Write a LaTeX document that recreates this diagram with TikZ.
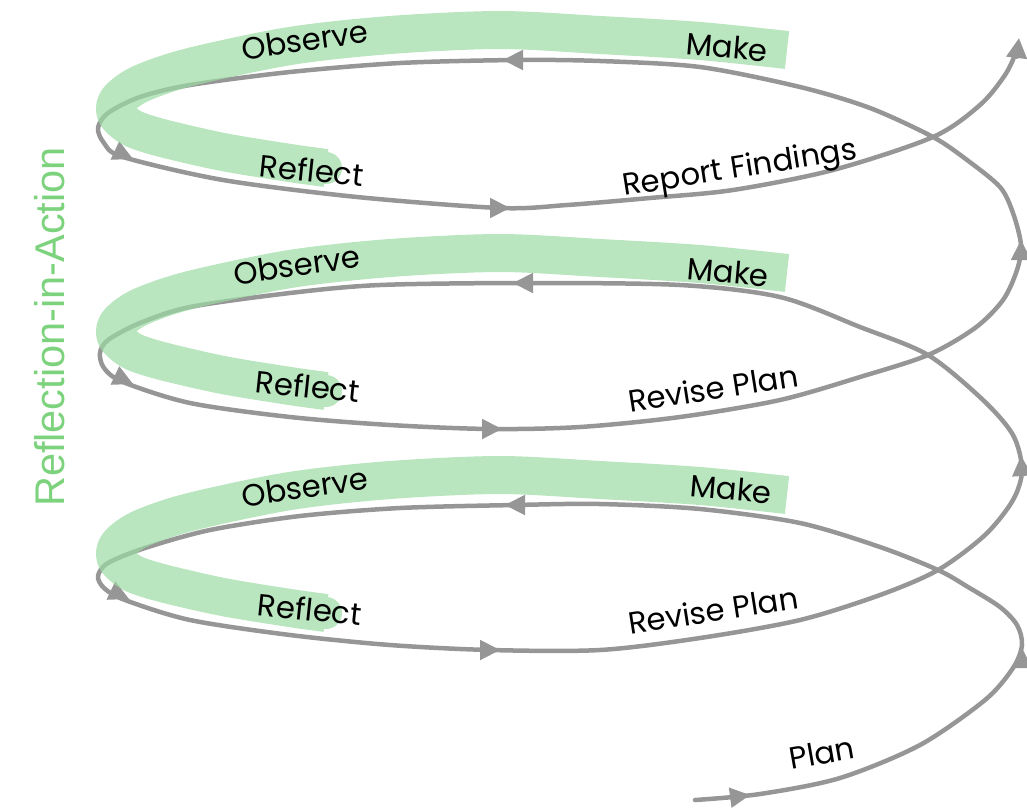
\documentclass[tikz,border=0pt]{standalone}
\usepackage{fontspec}
\setmainfont{Poppins}
\newfontfamily\sidefont{Liberation Sans}
\usetikzlibrary{arrows.meta}
\definecolor{spiralgray}{RGB}{150,150,150}
\definecolor{brushgreen}{RGB}{155,219,162}
\definecolor{sidegreen}{RGB}{125,210,125}

\begin{document}
\begin{tikzpicture}[x=1pt,y=-1pt,
  spiral/.style={draw=spiralgray, line width=4.5pt, line cap=round, line join=round},
  flowtip/.style={draw=spiralgray, line width=2pt, -{Triangle[length=20pt,width=20pt]}},
  brush/.style={draw=brushgreen, line width=38pt, line cap=butt, line join=round},
  lbl/.style={font=\fontsize{30.7}{34}\selectfont, text=black, inner sep=0pt},
]
\useasboundingbox (0,0) rectangle (1027,807);

% the rising spiral, from "Plan" at the bottom to the exit at the top right
\draw[spiral, -{Triangle[length=20pt,width=20pt]}] plot[smooth, tension=0.5] coordinates {
  (695,800) (760,794) (840,778) (920,745) (985,700) (1013,668) (1022,645)
  (1017,625) (1000,607) (968,587) (938,570) (880,547) (800,523) (700,509)
  (600,504) (515,505) (400,508) (300,516) (210,530) (145,548) (108,563)
  (98,576) (104,588) (125,600) (190,620) (290,635) (390,645) (490,650)
  (600,650) (700,638) (800,620) (880,595) (938,570) (985,535) (1013,500)
  (1022,470) (1013,435) (983,400) (928,355) (860,327) (780,297) (680,285)
  (527,283) (380,285) (290,293) (190,307) (140,323) (108,340) (100,353)
  (104,368) (123,382) (190,403) (290,417) (390,425) (490,429) (580,427)
  (680,417) (780,400) (860,377) (928,355) (975,328) (1003,300) (1017,270)
  (1021,245) (1013,213) (1000,187) (967,160) (933,137) (870,108) (800,87)
  (700,67) (600,61) (517,60) (400,63) (290,72) (190,85) (140,97) (108,113)
  (98,128) (104,143) (123,157) (223,180) (357,197) (500,208) (567,205)
  (650,198) (733,190) (833,170) (933,137) (980,105) (1005,75) (1016,52)
  (1019,38)};

% direction marks along the spiral
\draw[flowtip] (735,797) -- (750,795);
\draw[flowtip] (1022,664) -- (1022,648);
\draw[flowtip] (522,505) -- (505,505);
\draw[flowtip] (112,591) -- (129,599);
\draw[flowtip] (483,650) -- (500,650);
\draw[flowtip] (1022,472) -- (1021,456);
\draw[flowtip] (530,283) -- (513,283);
\draw[flowtip] (116,376) -- (133,384);
\draw[flowtip] (485,429) -- (502,429);
\draw[flowtip] (1021,256) -- (1021,240);
\draw[flowtip] (520,60) -- (503,60);
\draw[flowtip] (116,151) -- (133,159);
\draw[flowtip] (493,208) -- (510,208);

% green brush strokes marking each reflection-in-action loop
\foreach \dy in {0,223,445} {
  \begin{scope}[shift={(0,\dy)}, transparency group, opacity=0.7]
    \draw[brush] plot[smooth, tension=0.5] coordinates {
      (787,50) (700,41) (600,35) (500,30) (390,35) (290,46) (190,67)
      (140,84) (118,100) (116,114) (132,128) (162,138) (223,152) (290,163) (326,168)};
    \fill[brushgreen] (326,168) circle (16);
  \end{scope}
}

% labels
\node[lbl, rotate=8]  (obs1) at (305,40)  {Observe};
\node[lbl, rotate=-5] (mak1) at (727,47)  {Make};
\node[lbl, rotate=-6] (ref1) at (312,170) {Reflect};
\node[lbl, rotate=9]  (rep)  at (740,170) {Report Findings};

\node[lbl, rotate=8]  (obs2) at (297,265) {Observe};
\node[lbl, rotate=-5] (mak2) at (728,272) {Make};
\node[lbl, rotate=-6] (ref2) at (308,386) {Reflect};
\node[lbl, rotate=9]  (rev2) at (713,388) {Revise Plan};

\node[lbl, rotate=8]  (obs3) at (305,487) {Observe};
\node[lbl, rotate=-5] (mak3) at (731,489) {Make};
\node[lbl, rotate=-6] (ref3) at (310,609) {Reflect};
\node[lbl, rotate=9]  (rev3) at (713,610) {Revise Plan};

\node[lbl, rotate=10] (plan) at (822,753) {Plan};

\node[rotate=90, inner sep=0pt, text=sidegreen,
      font=\sidefont\fontsize{41.5}{44}\selectfont] (side) at (50,327) {Reflection-in-Action};
\end{tikzpicture}
\end{document}
